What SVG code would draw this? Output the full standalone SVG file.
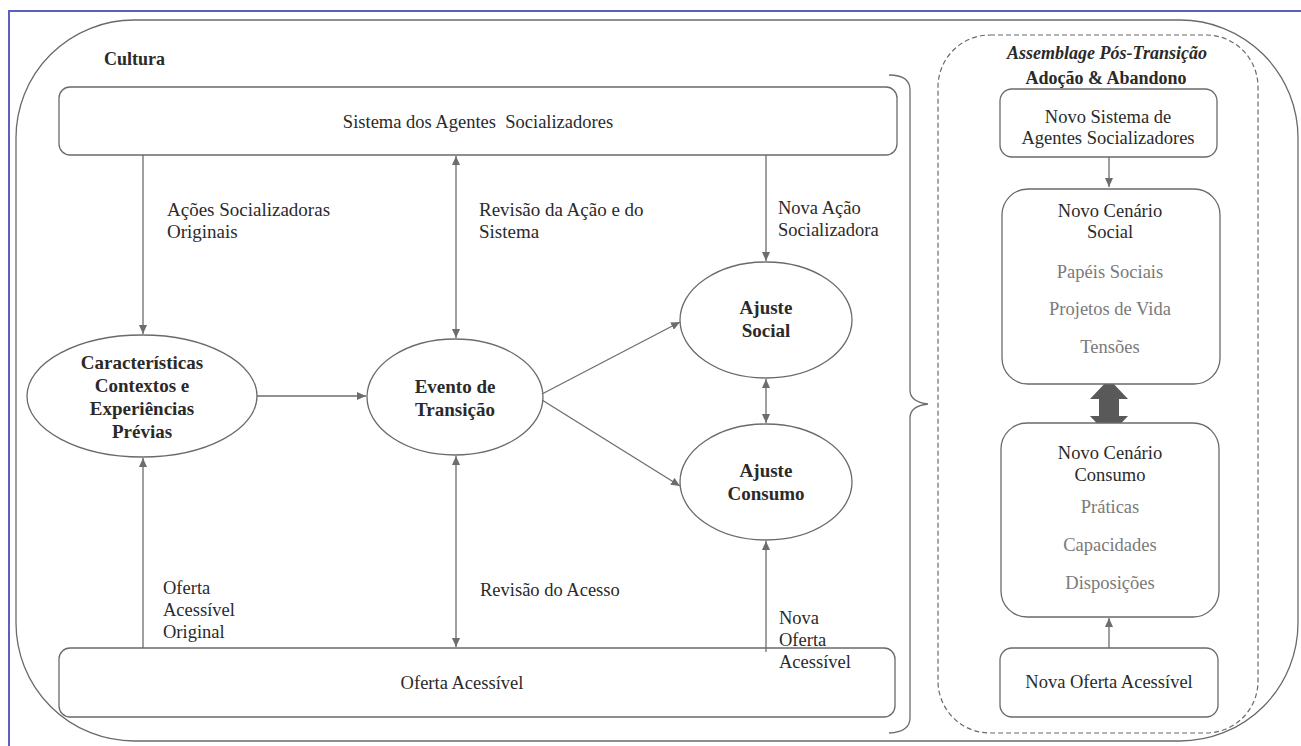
<svg xmlns="http://www.w3.org/2000/svg" width="1301" height="746" viewBox="0 0 1301 746" font-family="'Liberation Serif', 'DejaVu Serif', serif">
<style>
.b{font-weight:bold}
.c{text-anchor:middle}
.k{fill:#2a2a2a}
.g{fill:#7a7a7a}
.box{fill:#fff;stroke:#6a6a6a;stroke-width:1.3}
.ln{fill:none;stroke:#6d6d6d;stroke-width:1.3}
</style>
<defs>
<marker id="ah" markerWidth="10" markerHeight="8" refX="9" refY="4" orient="auto" markerUnits="userSpaceOnUse">
<path d="M0,0 L9,4 L0,8 Z" fill="#6d6d6d"/>
</marker>
<marker id="as" markerWidth="10" markerHeight="8" refX="0" refY="4" orient="auto" markerUnits="userSpaceOnUse">
<path d="M9,0 L0,4 L9,8 Z" fill="#6d6d6d"/>
</marker>
</defs>
<rect width="1301" height="746" fill="#fff"/>
<path d="M9,746 L9,11 L1301,11" fill="none" stroke="#5b5fbf" stroke-width="2"/>
<g id="cultura">
<rect x="16" y="20" width="1282" height="721" rx="118" fill="none" stroke="#6a6a6a" stroke-width="1.3"/>
<text class="b k" x="104" y="65" font-size="18">Cultura</text>
</g>
<g id="sistema">
<rect class="box" x="59" y="87" width="838" height="68" rx="11"/>
<text class="c k" x="478" y="128" font-size="18.5" xml:space="preserve">Sistema dos Agentes  Socializadores</text>
</g>
<g id="oferta">
<rect class="box" x="59" y="648" width="836" height="69" rx="11"/>
<text class="c k" x="462" y="689" font-size="18.5">Oferta Acessível</text>
</g>
<g id="caracteristicas">
<ellipse class="box" cx="142" cy="396" rx="115" ry="61"/>
<text class="b c k" font-size="19"><tspan x="142" y="369">Características</tspan><tspan x="142" y="392">Contextos e</tspan><tspan x="142" y="415">Experiências</tspan><tspan x="142" y="438">Prévias</tspan></text>
</g>
<g id="evento">
<ellipse class="box" cx="455" cy="397" rx="88" ry="58"/>
<text class="b c k" font-size="19"><tspan x="455" y="393">Evento de</tspan><tspan x="455" y="416">Transição</tspan></text>
</g>
<g id="ajuste-social">
<ellipse class="box" cx="766" cy="320" rx="86" ry="58"/>
<text class="b c k" font-size="19"><tspan x="766" y="314">Ajuste</tspan><tspan x="766" y="337">Social</tspan></text>
</g>
<g id="ajuste-consumo">
<ellipse class="box" cx="766" cy="482" rx="86" ry="58"/>
<text class="b c k" font-size="19"><tspan x="766" y="477">Ajuste</tspan><tspan x="766" y="500">Consumo</tspan></text>
</g>
<g id="connectors">
<line class="ln" x1="143" y1="155" x2="143" y2="334" marker-end="url(#ah)"/>
<line class="ln" x1="456" y1="156" x2="456" y2="338" marker-start="url(#as)" marker-end="url(#ah)"/>
<line class="ln" x1="766" y1="155" x2="766" y2="261" marker-end="url(#ah)"/>
<line class="ln" x1="143" y1="648" x2="143" y2="458" marker-end="url(#ah)"/>
<line class="ln" x1="456" y1="456" x2="456" y2="647" marker-start="url(#as)" marker-end="url(#ah)"/>
<line class="ln" x1="766" y1="652" x2="766" y2="541" marker-end="url(#ah)"/>
<line class="ln" x1="257" y1="396" x2="366" y2="396" marker-end="url(#ah)"/>
<line class="ln" x1="542" y1="394" x2="680" y2="322" marker-end="url(#ah)"/>
<line class="ln" x1="542" y1="400" x2="680" y2="486" marker-end="url(#ah)"/>
<line class="ln" x1="766" y1="379" x2="766" y2="423" marker-start="url(#as)" marker-end="url(#ah)"/>
<line class="ln" x1="1109" y1="157" x2="1109" y2="187" marker-end="url(#ah)"/>
<line class="ln" x1="1109" y1="648" x2="1109" y2="618" marker-end="url(#ah)"/>
<path d="M1109,379 L1128,399 L1119,399 L1119,416 L1128,416 L1109,436 L1090,416 L1099,416 L1099,399 L1090,399 Z" fill="#595959"/>
<path class="ln" d="M889,75 Q910,75 910,90 L910,390 Q910,402 928,404 Q910,406 910,418 L910,718 Q910,732 889,733"/>
<text class="k" font-size="19"><tspan x="167" y="216">Ações Socializadoras</tspan><tspan x="167" y="238">Originais</tspan></text>
<text class="k" font-size="19"><tspan x="479" y="216">Revisão da Ação e do</tspan><tspan x="479" y="238">Sistema</tspan></text>
<text class="k" font-size="18.5"><tspan x="778" y="214">Nova Ação</tspan><tspan x="778" y="236">Socializadora</tspan></text>
<text class="k" font-size="18.5"><tspan x="163" y="594">Oferta</tspan><tspan x="163" y="616">Acessível</tspan><tspan x="163" y="638">Original</tspan></text>
<text class="k" font-size="18.5"><tspan x="480" y="596">Revisão do Acesso</tspan></text>
<text class="k" font-size="18.5"><tspan x="779" y="624">Nova</tspan><tspan x="779" y="646">Oferta</tspan><tspan x="779" y="668">Acessível</tspan></text>
</g>
<g id="assemblage">
<rect x="938" y="35" width="320" height="698" rx="52" fill="none" stroke="#6a6a6a" stroke-width="1.2" stroke-dasharray="5,3"/>
<text class="b c k" font-size="18"><tspan x="1107" y="59" font-style="italic">Assemblage Pós-Transição</tspan><tspan x="1106" y="84">Adoção &amp; Abandono</tspan></text>
</g>
<g id="novo-sistema">
<rect class="box" x="1000" y="89" width="217" height="68" rx="12"/>
<text class="c k" font-size="18.5"><tspan x="1108" y="123">Novo Sistema de</tspan><tspan x="1108" y="144">Agentes Socializadores</tspan></text>
</g>
<g id="novo-cenario-social">
<rect class="box" x="1002" y="189" width="218" height="195" rx="26"/>
<text class="c k" font-size="18.5"><tspan x="1110" y="217">Novo Cenário</tspan><tspan x="1110" y="238">Social</tspan></text>
<text class="c g" font-size="18.5"><tspan x="1110" y="278">Papéis Sociais</tspan><tspan x="1110" y="315">Projetos de Vida</tspan><tspan x="1110" y="353">Tensões</tspan></text>
</g>
<g id="novo-cenario-consumo">
<rect class="box" x="1001" y="423" width="218" height="194" rx="26"/>
<text class="c k" font-size="18.5"><tspan x="1110" y="459">Novo Cenário</tspan><tspan x="1110" y="481">Consumo</tspan></text>
<text class="c g" font-size="18.5"><tspan x="1110" y="513">Práticas</tspan><tspan x="1110" y="551">Capacidades</tspan><tspan x="1110" y="589">Disposições</tspan></text>
</g>
<g id="nova-oferta">
<rect class="box" x="1000" y="648" width="218" height="69" rx="12"/>
<text class="c k" x="1109" y="688" font-size="18.5">Nova Oferta Acessível</text>
</g>
</svg>
